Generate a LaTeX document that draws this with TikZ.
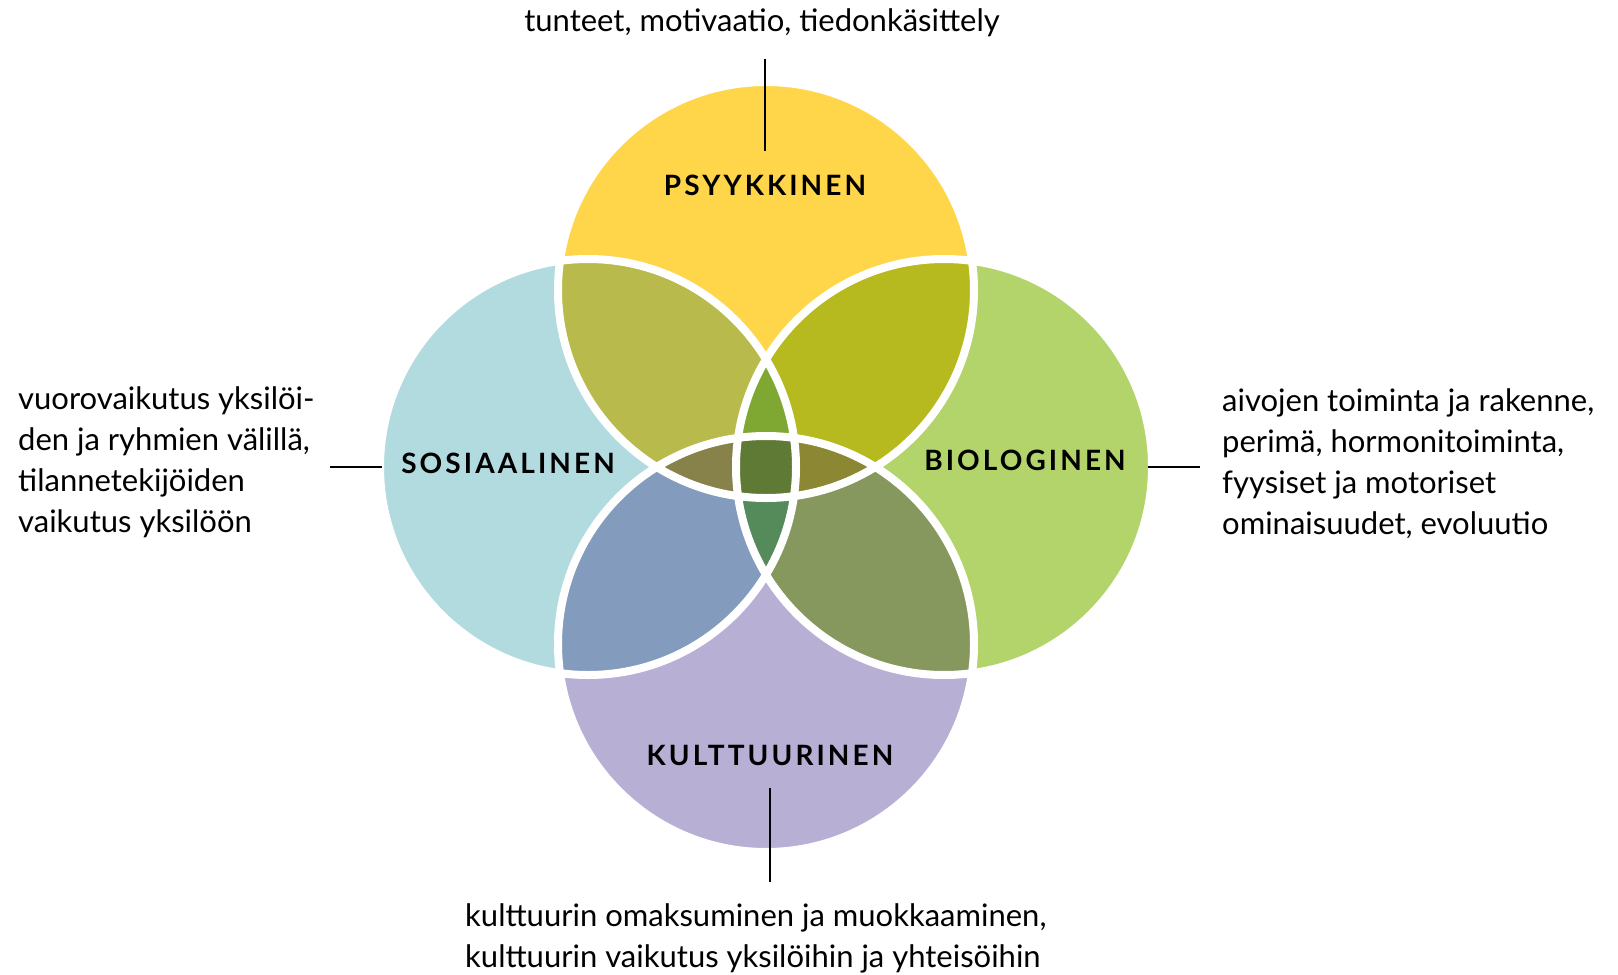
\documentclass[tikz,border=0pt]{standalone}
\usepackage{fontspec}
\setmainfont{Lato}
\newfontfamily\capsfont[LetterSpace=11]{Lato}
\usepackage{tikz}
\usetikzlibrary{positioning}

\definecolor{psyc}{HTML}{FFD64A}
\definecolor{sosc}{HTML}{B2DBE0}
\definecolor{bioc}{HTML}{B3D46A}
\definecolor{kulc}{HTML}{B8AFD5}
\definecolor{psysos}{HTML}{B8BA4C}
\definecolor{psybio}{HTML}{B6BA1E}
\definecolor{kulsos}{HTML}{839CBE}
\definecolor{kulbio}{HTML}{86985E}
\definecolor{psysosbio}{HTML}{7FA832}
\definecolor{kulsosbio}{HTML}{558A5A}
\definecolor{psykulsos}{HTML}{868249}
\definecolor{psykulbio}{HTML}{8B8732}
\definecolor{kaikki}{HTML}{5E7A35}

\newcommand{\rad}{208}

\tikzset{
    ring/.style={circle, draw=white, line width=8, minimum size=416, inner sep=0, outer sep=0},
    label/.style={inner sep=0, font=\capsfont\bfseries\fontsize{28}{34}\selectfont},
    note/.style={inner sep=0, align=left, font=\fontsize{31}{41}\selectfont},
    leader/.style={line width=2.6, black},
}

\begin{document}
\begin{tikzpicture}[x=1pt, y=-1pt]
    \useasboundingbox (0,0) rectangle (1618,975);

    \coordinate (P) at (766,290);
    \coordinate (S) at (588,467);
    \coordinate (B) at (944,467);
    \coordinate (K) at (766,644);

    % yksittaiset ympyrat
    \fill[psyc] (P) circle[radius=\rad];
    \fill[sosc] (S) circle[radius=\rad];
    \fill[bioc] (B) circle[radius=\rad];
    \fill[kulc] (K) circle[radius=\rad];

    % kahden leikkaukset
    \begin{scope}
        \clip (P) circle[radius=\rad];
        \fill[psysos] (S) circle[radius=\rad];
        \fill[psybio] (B) circle[radius=\rad];
    \end{scope}
    \begin{scope}
        \clip (K) circle[radius=\rad];
        \fill[kulsos] (S) circle[radius=\rad];
        \fill[kulbio] (B) circle[radius=\rad];
    \end{scope}

    % kolmen leikkaukset
    \begin{scope}
        \clip (S) circle[radius=\rad];
        \clip (B) circle[radius=\rad];
        \fill[psysosbio] (P) circle[radius=\rad];
        \fill[kulsosbio] (K) circle[radius=\rad];
    \end{scope}
    \begin{scope}
        \clip (P) circle[radius=\rad];
        \clip (K) circle[radius=\rad];
        \fill[psykulsos] (S) circle[radius=\rad];
        \fill[psykulbio] (B) circle[radius=\rad];
    \end{scope}

    % kaikki nelja
    \begin{scope}
        \clip (P) circle[radius=\rad];
        \clip (K) circle[radius=\rad];
        \clip (S) circle[radius=\rad];
        \fill[kaikki] (B) circle[radius=\rad];
    \end{scope}

    % valkoiset reunat
    \node[ring] (psyring) at (P) {};
    \node[ring] (sosring) at (S) {};
    \node[ring] (bioring) at (B) {};
    \node[ring] (kulring) at (K) {};

    \node[label] (psy) at (765,185) {PSYYKKINEN};
    \node[label] (sos) at (508,463) {SOSIAALINEN};
    \node[label] (bio) at (1025,460) {BIOLOGINEN};
    \node[label] (kul) at (770,755) {KULTTUURINEN};

    \node[note, anchor=base] (psynote) at (762,31) {tunteet, motivaatio, tiedonkäsittely};
    \node[note, anchor=north west] (sosnote) at (18,386)
        {vuorovaikutus yksilöi-\\den ja ryhmien välillä,\\tilannetekijöiden\\vaikutus yksilöön};
    \node[note, anchor=north west] (bionote) at (1222,388)
        {aivojen toiminta ja rakenne,\\perimä, hormonitoiminta,\\fyysiset ja motoriset\\ominaisuudet, evoluutio};
    \node[note, anchor=north west] (kulnote) at (465,903)
        {kulttuurin omaksuminen ja muokkaaminen,\\kulttuurin vaikutus yksilöihin ja yhteisöihin};

    \draw[leader, shorten <=22, shorten >=23] (psy.north |- psynote.south) -- (psy.north);
    \draw[leader, shorten <=15, shorten >=-2] (sosnote.east |- sosring.west) -- (sosring.west);
    \draw[leader, shorten <=-4, shorten >=22] (bioring.east) -- (bionote.west |- bioring.east);
    \draw[leader, shorten <=23, shorten >=21] (kul.south) -- (kulnote.north -| kul.south);
\end{tikzpicture}
\end{document}
